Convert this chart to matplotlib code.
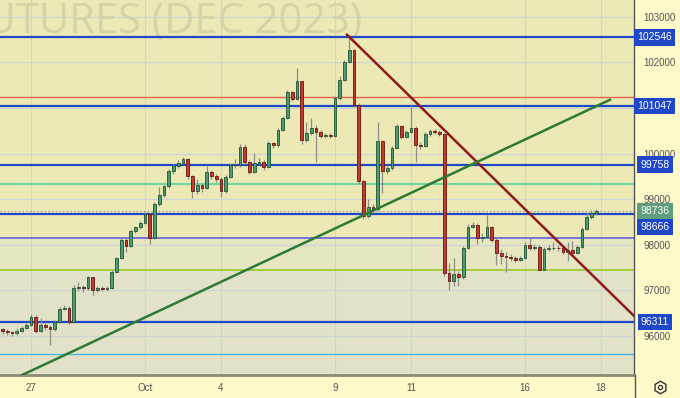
import matplotlib
matplotlib.use("Agg")
import matplotlib.pyplot as plt
from matplotlib.lines import Line2D

# x axis: trading days counted from Sep 27
day_ticks = [0, 3, 5, 8, 10, 13, 15]
day_labels = ['27', 'Oct', '4', '9', '11', '16', '18']

# right axis ticks (101000 sits under the 101047 box in the reference)
price_ticks = [96000, 97000, 98000, 99000, 100000, 101000, 102000, 103000]
price_labels = ['96000', '97000', '98000', '99000', '100000', '', '102000', '103000']

# candles, 8 per day, first one at day -0.75
first_open = 96150
closes = [96100, 96080, 96060, 96120, 96180, 96250, 96420, 96120, 96240, 96200,
          96150, 96300, 96600, 96620, 96300, 97050, 97080, 97050, 97290, 97010,
          97050, 97030, 97060, 97400, 97700, 98100, 97980, 98300, 98380, 98480,
          98680, 98150, 98900, 99100, 99280, 99620, 99720, 99800, 99870, 99500,
          99170, 99300, 99250, 99600, 99500, 99450, 99170, 99490, 99750, 99740,
          100150, 99825, 99600, 99800, 99820, 99700, 100230, 100180, 100520, 100780,
          101350, 101200, 101580, 100300, 100450, 100550, 100480, 100380, 100400, 100380,
          101220, 101620, 102010, 102260, 101070, 99390, 98620, 98830, 98780, 100265,
          99620, 99680, 100125, 100595, 100370, 100480, 100565, 100190, 100170, 100430,
          100500, 100470, 100420, 97380, 97200, 97350, 97300, 97930, 98400, 98440,
          98150, 98180, 98400, 98110, 97820, 97760, 97740, 97700, 97670, 97700,
          98000, 97920, 97960, 97450, 97900, 97920, 97940, 97930, 97850, 97880,
          97820, 97950, 98350, 98600, 98700, 98736]
highs = [96180, 96150, 96120, 96170, 96230, 96290, 96480, 96460, 96400, 96300,
         96250, 96340, 96640, 96680, 96650, 97120, 97180, 97120, 97320, 97300,
         97100, 97100, 97090, 97440, 97740, 98150, 98150, 98340, 98420, 98520,
         98720, 98700, 98940, 99260, 99320, 99660, 99760, 99860, 99920, 99900,
         99520, 99450, 99340, 99720, 99640, 99560, 99480, 99520, 99790, 99880,
         100220, 100200, 99850, 100010, 99900, 99850, 100280, 100260, 100560, 100820,
         101400, 101380, 101880, 101600, 100700, 100780, 100620, 100520, 100450, 100440,
         101260, 101700, 102060, 102600, 102300, 101100, 99420, 99000, 98900, 100700,
         100300, 99750, 100170, 100640, 100620, 100520, 101060, 100600, 100250, 100470,
         100540, 100530, 100520, 100440, 97600, 97700, 97420, 97980, 98460, 98500,
         98470, 98250, 98660, 98420, 98140, 97900, 97850, 97800, 97760, 97760,
         98050, 98150, 98020, 97990, 97950, 97990, 98050, 97990, 97960, 98050,
         98080, 98000, 98390, 98720, 98760, 98780]
lows = [96050, 96020, 96000, 96020, 96090, 96150, 96220, 96060, 96080, 96140,
        95800, 96100, 96280, 96560, 96270, 96290, 96980, 96960, 97000, 96900,
        96960, 96980, 96990, 97030, 97380, 97680, 97850, 97950, 98250, 98350,
        98450, 98020, 98120, 98850, 99050, 99250, 99560, 99680, 99760, 99450,
        99020, 99120, 99150, 99220, 99450, 99380, 99050, 99130, 99460, 99690,
        99700, 99780, 99560, 99580, 99760, 99650, 99680, 100120, 100150, 100500,
        100760, 101150, 101170, 100200, 100250, 100400, 99820, 100330, 100340, 100330,
        100360, 101180, 101580, 101980, 101020, 99340, 98560, 98580, 98700, 98750,
        99140, 99560, 99650, 100100, 100320, 100330, 100450, 99810, 100100, 100140,
        100380, 100420, 100380, 97320, 97000, 97100, 97100, 97260, 97900, 98360,
        98020, 98050, 98150, 98060, 97560, 97580, 97400, 97640, 97620, 97640,
        97680, 97880, 97890, 97440, 97440, 97860, 97880, 97860, 97800, 97640,
        97780, 97790, 97920, 98330, 98560, 98660]

# horizontal levels
blue_levels = [102546, 101047, 99758, 98666, 96311]
red_level = 101238
mint_level = 99335
purple_level = 98150
lime_level = 97441
cyan_level = 95598
last_price = 98736

# trend lines (day, price)
red_trend_x = [8.316, 15.87]
red_trend_y = [102605, 96440]
green_trend_x = [-0.237, 15.237]
green_trend_y = [95144, 101179]

fig = plt.figure(figsize=(6.8, 3.98), dpi=100)
fig.patch.set_facecolor('#fdf9c9')
ax = fig.add_axes([0, 23 / 398, 634 / 680, 375 / 398])
ax.set_xlim(-0.816, 15.87)
ax.set_ylim(95145, 103366)

# background bands
ax.set_facecolor('#ece9b4')
ax.axhspan(lime_level, purple_level, color='#e6e6c1', zorder=0, lw=0)
ax.axhspan(95000, lime_level, color='#e1e2c7', zorder=0, lw=0)

# grid
for t in day_ticks:
    ax.axvline(t, color='#cdd3da', lw=0.8, zorder=0.5)
for v in price_ticks:
    ax.axhline(v, color='#cdd3da', lw=0.8, zorder=0.5)

# watermark
ax.text(362 / 634, 1 - 33 / 375, 'FUTURES (DEC 2023)', transform=ax.transAxes,
        ha='right', va='baseline', fontsize=30, family='Open Sans',
        color='#d6d3a9', zorder=0.6)

# levels
ax.axhline(red_level, color='#e0644e', lw=1.0, zorder=1)
ax.axhline(mint_level, color='#6fd6a2', lw=1.5, zorder=1)
ax.axhline(purple_level, color='#6b6be0', lw=1.3, zorder=1)
ax.axhline(lime_level, color='#9ccc35', lw=1.3, zorder=1)
ax.axhline(cyan_level, color='#45b6e0', lw=1.0, zorder=1)
ax.axhline(last_price, color='#a9a790', lw=1.0, ls=':', zorder=1)
for lv in blue_levels:
    ax.axhline(lv, color='#1f47c9', lw=1.6, zorder=1.1)

# candles
w = 0.075
o = first_open
for k, (c, h, l) in enumerate(zip(closes, highs, lows)):
    x = -0.75 + k / 8
    ax.vlines(x, l, h, color='#8f8f88', lw=0.9, zorder=2)
    up = c >= o
    ax.bar(x, abs(c - o) if abs(c - o) > 8 else 8, bottom=min(o, c), width=w,
           color='#4f9a6e' if up else '#c13a2e',
           edgecolor='#1f5536' if up else '#6a1410', lw=0.6, zorder=3)
    o = c

# trend lines
ax.plot(red_trend_x, red_trend_y, color='#8e1b1b', lw=1.8, zorder=4)
ax.plot(green_trend_x, green_trend_y, color='#2d7a35', lw=1.8, zorder=4)

# axes look
for s in ['top', 'left']:
    ax.spines[s].set_visible(False)
ax.spines['bottom'].set_color('#8d8b78')
ax.spines['bottom'].set_linewidth(2)
ax.spines['right'].set_color('#555555')
ax.spines['right'].set_linewidth(1)
ax.set_xticks(day_ticks)
ax.set_xticklabels(day_labels)
ax.yaxis.tick_right()
ax.set_yticks(price_ticks)
ax.set_yticklabels(price_labels)
ax.tick_params(axis='both', length=0, labelsize=7, labelcolor='#555555')
ax.tick_params(axis='x', pad=6)
ax.tick_params(axis='y', pad=7)
for lab in ax.get_xticklabels() + ax.get_yticklabels():
    lab.set_family('Liberation Sans')

# price boxes on the right
tr = ax.get_yaxis_transform()
for lv in blue_levels:
    dy = -9 if lv == 98666 else 0
    ax.annotate(str(lv), xy=(1.033, lv), xycoords=tr, xytext=(0, dy),
                textcoords='offset points', ha='center', va='center',
                fontsize=7.5, family='Liberation Sans', color='white',
                annotation_clip=False, zorder=10,
                bbox=dict(boxstyle='square,pad=0.3', fc='#1f47c9', ec='none'))
ax.annotate(str(last_price), xy=(1.033, last_price), xycoords=tr,
            ha='center', va='center', fontsize=7.5, family='Liberation Sans',
            color='white', annotation_clip=False, zorder=10,
            bbox=dict(boxstyle='square,pad=0.3', fc='#5e9e7c', ec='none'))

# divider line through the bottom strip and settings icon
fig.add_artist(Line2D([634.5 / 680, 634.5 / 680], [0, 23 / 398],
                      color='#555555', lw=1))
fig.add_artist(Line2D([660 / 680], [11 / 398], marker='h', ms=9, mfc='none',
                      mec='#333333', mew=1))
fig.add_artist(Line2D([660 / 680], [11 / 398], marker='o', ms=3, mfc='none',
                      mec='#333333', mew=0.9))

fig.savefig('out.png', dpi=100)
